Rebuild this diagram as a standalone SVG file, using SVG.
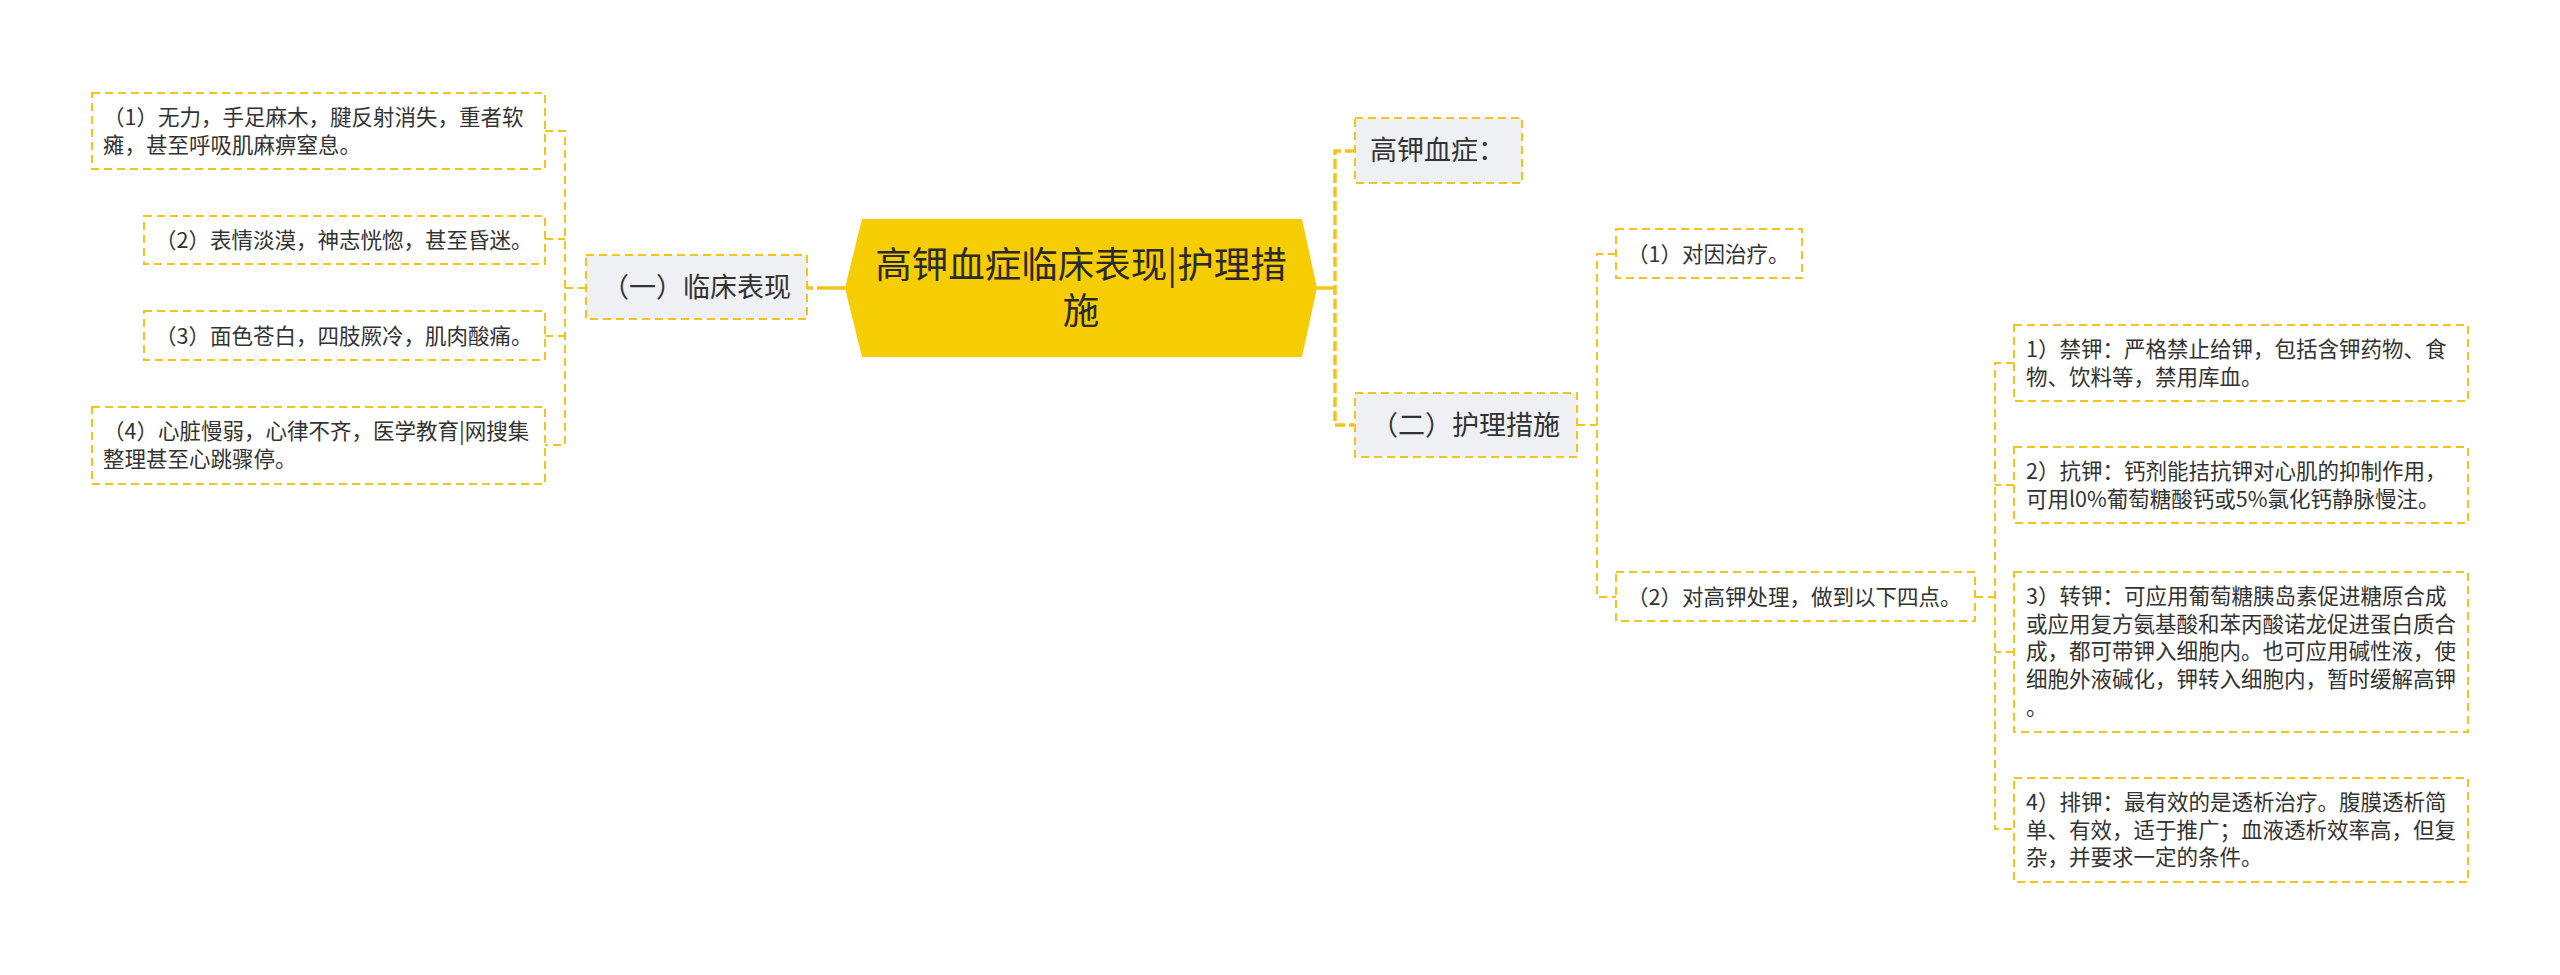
<svg xmlns="http://www.w3.org/2000/svg" width="2560" height="975" viewBox="0 0 2560 975">
<style>
text{font-family:"Noto Sans CJK SC","Noto Sans",sans-serif;fill:#333333;}
.t3{font-size:21.5px;}
.t2{font-size:27px;}
.t1{font-size:36.5px;text-anchor:middle;fill:#2a2a2a;}
.box{fill:#ffffff;stroke:#f2c41c;stroke-width:2;stroke-dasharray:8 5;}
.box1{fill:#eef0f4;stroke:#f2c41c;stroke-width:2;stroke-dasharray:8 5;}
.c{fill:none;stroke:#f2c41c;stroke-width:2;stroke-dasharray:8 5;}
.c1{fill:none;stroke:#f2c41c;stroke-width:3.5;stroke-dasharray:10 4;}
.s{fill:none;stroke:#f2c41c;stroke-width:3.5;}
</style>
<rect width="2560" height="975" fill="#ffffff"/>
<g id="connectors">
<path class="s" d="M845,288 H827"/>
<path class="c1" d="M827,288 H807"/>
<path class="c" d="M545,131 H565 V445 H545 M545,239 H565 M545,336 H565 M565,288 H586"/>
<path class="s" d="M1317,288 H1335"/>
<path class="c1" d="M1355,151 H1335 V425 H1355"/>
<path class="c" d="M1616,254 H1597 V597 H1616 M1577,425 H1597"/>
<path class="c" d="M2014,363 H1995 V829 H2014 M2014,485 H1995 M2014,652 H1995 M1975,597 H1995"/>
</g>
<g id="root">
<polygon points="845,288 862,219 1302,219 1317,288 1302,357 862,357" fill="#f6cc02"/>
<text class="t1" x="1081" y="278">高钾血症临床表现|护理措</text>
<text class="t1" x="1081" y="324">施</text>
</g>
<g id="n-linchuang">
<rect class="box1" x="586" y="255" width="221" height="64"/>
<text class="t2" x="602" y="297">（一）临床表现</text>
</g>
<g id="n-l1">
<rect class="box" x="92" y="93" width="453" height="76"/>
<text class="t3" x="103" y="125">（1）无力，手足麻木，腱反射消失，重者软</text>
<text class="t3" x="103" y="152.7">瘫，甚至呼吸肌麻痹窒息。</text>
</g>
<g id="n-l2">
<rect class="box" x="144" y="216" width="401" height="48"/>
<text class="t3" x="155" y="248">（2）表情淡漠，神志恍惚，甚至昏迷。</text>
</g>
<g id="n-l3">
<rect class="box" x="144" y="311" width="401" height="49"/>
<text class="t3" x="155" y="344">（3）面色苍白，四肢厥冷，肌肉酸痛。</text>
</g>
<g id="n-l4">
<rect class="box" x="92" y="407" width="453" height="77"/>
<text class="t3" x="103" y="439">（4）心脏慢弱，心律不齐，医学教育|网搜集</text>
<text class="t3" x="103" y="466.7">整理甚至心跳骤停。</text>
</g>
<g id="n-gaojia">
<rect class="box1" x="1355" y="118" width="167" height="65"/>
<text class="t2" x="1370" y="160">高钾血症：</text>
</g>
<g id="n-huli">
<rect class="box1" x="1355" y="393" width="222" height="64"/>
<text class="t2" x="1371" y="435">（二）护理措施</text>
</g>
<g id="n-r1">
<rect class="box" x="1616" y="229" width="186" height="49"/>
<text class="t3" x="1627" y="262">（1）对因治疗。</text>
</g>
<g id="n-r2">
<rect class="box" x="1616" y="572" width="359" height="49"/>
<text class="t3" x="1627" y="605">（2）对高钾处理，做到以下四点。</text>
</g>
<g id="n-r2-1">
<rect class="box" x="2014" y="325" width="454" height="76"/>
<text class="t3" x="2026" y="357">1）禁钾：严格禁止给钾，包括含钾药物、食</text>
<text class="t3" x="2026" y="384.7">物、饮料等，禁用库血。</text>
</g>
<g id="n-r2-2">
<rect class="box" x="2014" y="447" width="454" height="76"/>
<text class="t3" x="2026" y="479">2）抗钾：钙剂能拮抗钾对心肌的抑制作用，</text>
<text class="t3" x="2026" y="506.7">可用l0%葡萄糖酸钙或5%氯化钙静脉慢注。</text>
</g>
<g id="n-r2-3">
<rect class="box" x="2014" y="572" width="454" height="160"/>
<text class="t3" x="2026" y="604">3）转钾：可应用葡萄糖胰岛素促进糖原合成</text>
<text class="t3" x="2026" y="631.7">或应用复方氨基酸和苯丙酸诺龙促进蛋白质合</text>
<text class="t3" x="2026" y="659.4">成，都可带钾入细胞内。也可应用碱性液，使</text>
<text class="t3" x="2026" y="687.1">细胞外液碱化，钾转入细胞内，暂时缓解高钾</text>
<text class="t3" x="2026" y="714.8">。</text>
</g>
<g id="n-r2-4">
<rect class="box" x="2014" y="778" width="454" height="104"/>
<text class="t3" x="2026" y="810">4）排钾：最有效的是透析治疗。腹膜透析简</text>
<text class="t3" x="2026" y="837.7">单、有效，适于推广；血液透析效率高，但复</text>
<text class="t3" x="2026" y="865.4">杂，并要求一定的条件。</text>
</g>
</svg>
